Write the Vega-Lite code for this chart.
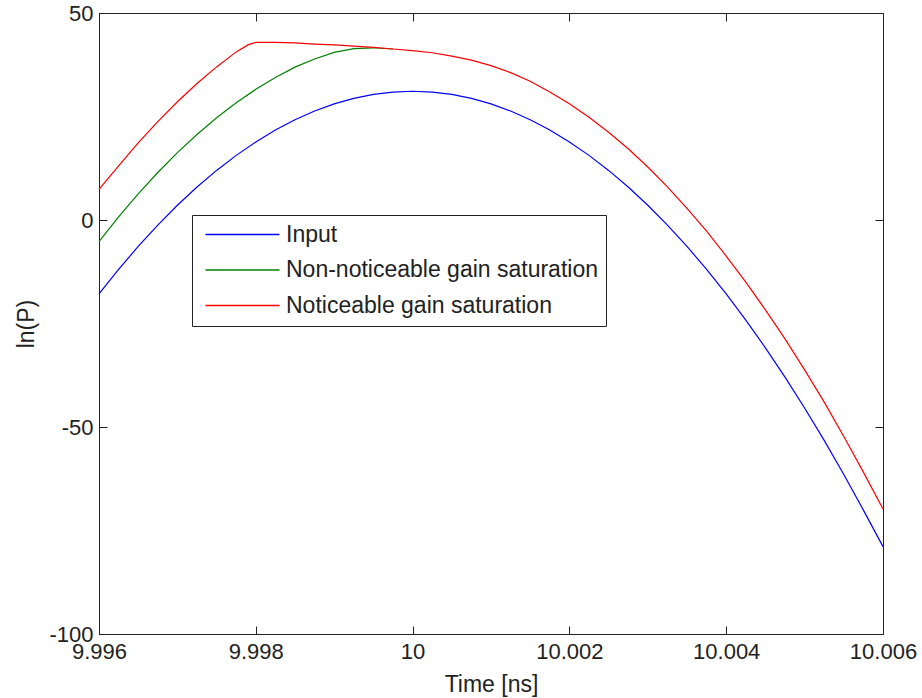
{
  "$schema": "https://vega.github.io/schema/vega-lite/v6.json",
  "width": 784,
  "height": 621,
  "autosize": "none",
  "padding": {"left": 99, "top": 13, "right": 39, "bottom": 64},
  "background": "white",
  "config": {
    "view": {"stroke": "black", "strokeWidth": 1},
    "font": "Liberation Sans",
    "axis": {"grid": false, "domainColor": "#222", "tickColor": "#222", "labelColor": "#222", "titleColor": "#222", "labelFont": "Liberation Sans", "titleFont": "Liberation Sans", "labelFontSize": 22, "titleFontSize": 23, "titleFontWeight": "normal", "tickSize": -8, "labelFlush": false, "labelOverlap": false},
    "legend": {"labelFont": "Liberation Sans"}
  },
  "data": {"values": [
    {"t": 9.996, "v": -17.86, "s": "Input"},
    {"t": 9.99625, "v": -11.93, "s": "Input"},
    {"t": 9.9965, "v": -6.39, "s": "Input"},
    {"t": 9.99675, "v": -1.22, "s": "Input"},
    {"t": 9.997, "v": 3.56, "s": "Input"},
    {"t": 9.99725, "v": 7.96, "s": "Input"},
    {"t": 9.9975, "v": 11.98, "s": "Input"},
    {"t": 9.99775, "v": 15.61, "s": "Input"},
    {"t": 9.998, "v": 18.86, "s": "Input"},
    {"t": 9.99825, "v": 21.73, "s": "Input"},
    {"t": 9.9985, "v": 24.22, "s": "Input"},
    {"t": 9.99875, "v": 26.32, "s": "Input"},
    {"t": 9.999, "v": 28.04, "s": "Input"},
    {"t": 9.99925, "v": 29.38, "s": "Input"},
    {"t": 9.9995, "v": 30.34, "s": "Input"},
    {"t": 9.99975, "v": 30.91, "s": "Input"},
    {"t": 10.0, "v": 31.1, "s": "Input"},
    {"t": 10.00025, "v": 30.91, "s": "Input"},
    {"t": 10.0005, "v": 30.34, "s": "Input"},
    {"t": 10.00075, "v": 29.38, "s": "Input"},
    {"t": 10.001, "v": 28.04, "s": "Input"},
    {"t": 10.00125, "v": 26.32, "s": "Input"},
    {"t": 10.0015, "v": 24.22, "s": "Input"},
    {"t": 10.00175, "v": 21.73, "s": "Input"},
    {"t": 10.002, "v": 18.86, "s": "Input"},
    {"t": 10.00225, "v": 15.61, "s": "Input"},
    {"t": 10.0025, "v": 11.98, "s": "Input"},
    {"t": 10.00275, "v": 7.96, "s": "Input"},
    {"t": 10.003, "v": 3.56, "s": "Input"},
    {"t": 10.00325, "v": -1.22, "s": "Input"},
    {"t": 10.0035, "v": -6.39, "s": "Input"},
    {"t": 10.00375, "v": -11.93, "s": "Input"},
    {"t": 10.004, "v": -17.86, "s": "Input"},
    {"t": 10.00425, "v": -24.17, "s": "Input"},
    {"t": 10.0045, "v": -30.87, "s": "Input"},
    {"t": 10.00475, "v": -37.94, "s": "Input"},
    {"t": 10.005, "v": -45.4, "s": "Input"},
    {"t": 10.00525, "v": -53.24, "s": "Input"},
    {"t": 10.0055, "v": -61.47, "s": "Input"},
    {"t": 10.00575, "v": -70.07, "s": "Input"},
    {"t": 10.006, "v": -78.9, "s": "Input"},

    {"t": 9.996, "v": -5.2, "s": "Non-noticeable gain saturation"},
    {"t": 9.99625, "v": 0.77, "s": "Non-noticeable gain saturation"},
    {"t": 9.9965, "v": 6.31, "s": "Non-noticeable gain saturation"},
    {"t": 9.99675, "v": 11.48, "s": "Non-noticeable gain saturation"},
    {"t": 9.997, "v": 16.26, "s": "Non-noticeable gain saturation"},
    {"t": 9.99725, "v": 20.66, "s": "Non-noticeable gain saturation"},
    {"t": 9.9975, "v": 24.68, "s": "Non-noticeable gain saturation"},
    {"t": 9.99775, "v": 28.31, "s": "Non-noticeable gain saturation"},
    {"t": 9.998, "v": 31.56, "s": "Non-noticeable gain saturation"},
    {"t": 9.99825, "v": 34.43, "s": "Non-noticeable gain saturation"},
    {"t": 9.9985, "v": 36.92, "s": "Non-noticeable gain saturation"},
    {"t": 9.99875, "v": 38.9, "s": "Non-noticeable gain saturation"},
    {"t": 9.999, "v": 40.5, "s": "Non-noticeable gain saturation"},
    {"t": 9.99925, "v": 41.4, "s": "Non-noticeable gain saturation"},
    {"t": 9.9995, "v": 41.6, "s": "Non-noticeable gain saturation"},
    {"t": 9.99975, "v": 41.3, "s": "Non-noticeable gain saturation"},

    {"t": 9.996, "v": 7.4, "s": "Noticeable gain saturation"},
    {"t": 9.99625, "v": 13.07, "s": "Noticeable gain saturation"},
    {"t": 9.9965, "v": 18.61, "s": "Noticeable gain saturation"},
    {"t": 9.99675, "v": 23.78, "s": "Noticeable gain saturation"},
    {"t": 9.997, "v": 28.56, "s": "Noticeable gain saturation"},
    {"t": 9.99725, "v": 32.96, "s": "Noticeable gain saturation"},
    {"t": 9.9975, "v": 36.98, "s": "Noticeable gain saturation"},
    {"t": 9.99775, "v": 40.61, "s": "Noticeable gain saturation"},
    {"t": 9.9979, "v": 42.3, "s": "Noticeable gain saturation"},
    {"t": 9.998, "v": 42.9, "s": "Noticeable gain saturation"},
    {"t": 9.99825, "v": 42.9, "s": "Noticeable gain saturation"},
    {"t": 9.9985, "v": 42.8, "s": "Noticeable gain saturation"},
    {"t": 9.99875, "v": 42.5, "s": "Noticeable gain saturation"},
    {"t": 9.999, "v": 42.3, "s": "Noticeable gain saturation"},
    {"t": 9.99925, "v": 42.0, "s": "Noticeable gain saturation"},
    {"t": 9.9995, "v": 41.7, "s": "Noticeable gain saturation"},
    {"t": 9.99975, "v": 41.3, "s": "Noticeable gain saturation"},
    {"t": 10.0, "v": 40.9, "s": "Noticeable gain saturation"},
    {"t": 10.00025, "v": 40.4, "s": "Noticeable gain saturation"},
    {"t": 10.0005, "v": 39.6, "s": "Noticeable gain saturation"},
    {"t": 10.00075, "v": 38.6, "s": "Noticeable gain saturation"},
    {"t": 10.001, "v": 37.3, "s": "Noticeable gain saturation"},
    {"t": 10.00125, "v": 35.6, "s": "Noticeable gain saturation"},
    {"t": 10.0015, "v": 33.5, "s": "Noticeable gain saturation"},
    {"t": 10.00175, "v": 30.9, "s": "Noticeable gain saturation"},
    {"t": 10.002, "v": 28.1, "s": "Noticeable gain saturation"},
    {"t": 10.00225, "v": 24.8, "s": "Noticeable gain saturation"},
    {"t": 10.0025, "v": 21.2, "s": "Noticeable gain saturation"},
    {"t": 10.00275, "v": 17.2, "s": "Noticeable gain saturation"},
    {"t": 10.003, "v": 12.8, "s": "Noticeable gain saturation"},
    {"t": 10.00325, "v": 8.0, "s": "Noticeable gain saturation"},
    {"t": 10.0035, "v": 2.8, "s": "Noticeable gain saturation"},
    {"t": 10.00375, "v": -2.7, "s": "Noticeable gain saturation"},
    {"t": 10.004, "v": -8.7, "s": "Noticeable gain saturation"},
    {"t": 10.00425, "v": -15.0, "s": "Noticeable gain saturation"},
    {"t": 10.0045, "v": -21.7, "s": "Noticeable gain saturation"},
    {"t": 10.00475, "v": -28.7, "s": "Noticeable gain saturation"},
    {"t": 10.005, "v": -36.2, "s": "Noticeable gain saturation"},
    {"t": 10.00525, "v": -44.0, "s": "Noticeable gain saturation"},
    {"t": 10.0055, "v": -52.3, "s": "Noticeable gain saturation"},
    {"t": 10.00575, "v": -60.9, "s": "Noticeable gain saturation"},
    {"t": 10.006, "v": -69.8, "s": "Noticeable gain saturation"}
  ]},
  "layer": [
    {
      "mark": {"type": "line", "opacity": 0},
      "encoding": {
        "x": {"field": "t", "type": "quantitative", "scale": {"domain": [9.996, 10.006], "nice": false, "zero": false},
              "axis": {"orient": "top", "labels": false, "title": null, "values": [9.996, 9.998, 10, 10.002, 10.004, 10.006]}},
        "y": {"field": "v", "type": "quantitative", "scale": {"domain": [-100, 50], "nice": false, "zero": false},
              "axis": {"orient": "right", "labels": false, "title": null, "values": [-100, -50, 0, 50]}},
        "detail": {"field": "s"}
      }
    },
    {
      "mark": {"type": "line", "strokeWidth": 1.2},
      "encoding": {
        "x": {"field": "t", "type": "quantitative",
              "axis": {"orient": "bottom", "title": "Time [ns]", "values": [9.996, 9.998, 10, 10.002, 10.004, 10.006], "labelExpr": "'' + datum.value", "labelPadding": 15, "titlePadding": 11}},
        "y": {"field": "v", "type": "quantitative",
              "axis": {"orient": "left", "title": "ln(P)", "values": [-100, -50, 0, 50], "labelExpr": "'' + datum.value", "labelPadding": 14, "titlePadding": 10}},
        "color": {"field": "s", "type": "nominal", "sort": null,
          "scale": {"domain": ["Input", "Non-noticeable gain saturation", "Noticeable gain saturation"], "range": ["#0000ff", "#008000", "#ff0000"]},
          "legend": {"orient": "none", "legendX": 93, "legendY": 202, "title": null, "strokeColor": "#222", "fillColor": "white",
                     "padding": 8, "symbolType": "M-4,0H4", "symbolSize": 342, "symbolStrokeWidth": 1.6, "symbolOffset": 31,
                     "labelFontSize": 23, "labelColor": "#222", "labelOffset": 32, "labelLimit": 0, "rowPadding": 11.5}
        }
      }
    }
  ],
  "resolve": {"axis": {"x": "independent", "y": "independent"}}
}
